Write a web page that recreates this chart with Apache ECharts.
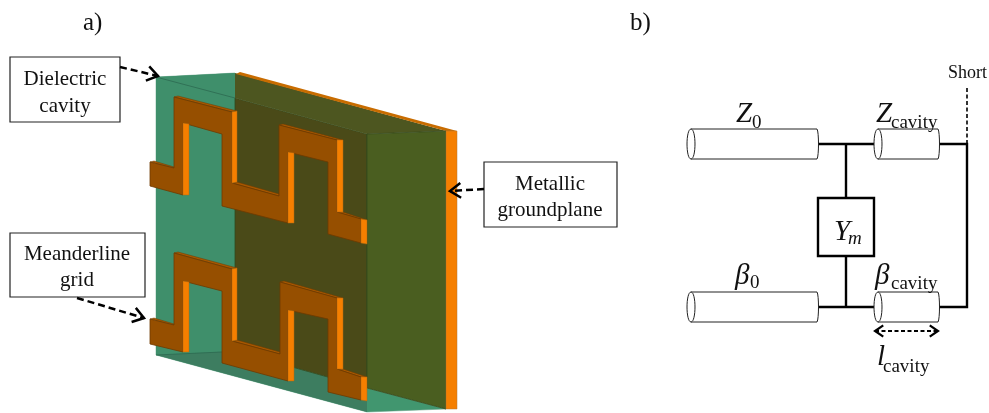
<!DOCTYPE html>
<html><head><meta charset="utf-8">
<style>html,body{margin:0;padding:0;background:#fff}#c{width:989px;height:413px}</style>
<script src="https://cdn.jsdelivr.net/npm/echarts@6/dist/echarts.min.js"></script>
</head><body><div id="c"></div>
<script>
// ---- readings in picture units ----
const cavityTeal=[[156,77],[235,73],[235,351],[367,388],[446,409],[367,412],[156,355]];
const cavityLeft=[[156,77],[235,73],[235,351],[156,355]];
const cavityFloor=[[156,355],[235,351],[367,388],[367,412]];
const cavityBack=[[235,98],[367,134],[367,388],[235,351]];
const cavityTop=[[235,73],[446,131],[367,134],[235,98]];
const cavitySide=[[367,134],[446,131],[446,409],[367,388]];
const groundTop=[[236,74],[240,72],[457,131],[446,131]];
const groundSide=[[446,131],[457,131],[457,409],[446,409]];
const frontEdge=[[[156,77],[235,98]],[[156,355],[222,352]]];

const meanderUpper=[[150,162],[174,168],[174,97],[232,112],[232,183],[279,196],[279,125],[337,140],[337,212],[361,219],[361,243],[328,234],[328,162],[288,152],[288,223],[222,206],[222,134],[183,123],[183,195],[150,186]];
const meanderLower=[[150,319],[174,325],[174,253],[232,269],[232,341],[280,354],[280,282],[337,298],[337,369],[361,377],[361,400],[328,392],[328,319],[288,310],[288,381],[222,363],[222,291],[183,281],[183,352],[150,344]];
const upperSides=[[[232,112],[237,111],[237,182],[232,183]],[[183,123],[189,124],[189,195],[183,195]],[[337,140],[343,140],[343,212],[337,212]],[[288,152],[294,153],[294,223],[288,223]],[[361,219],[367,220],[367,244],[361,243]]];
const lowerSides=[[[232,269],[237,268],[237,340],[232,341]],[[183,281],[189,282],[189,352],[183,352]],[[337,298],[343,298],[343,369],[337,369]],[[288,310],[294,311],[294,381],[288,381]],[[361,377],[367,377],[367,401],[361,400]]];
const upperLips=[[[150,162],[154,161],[174,167],[174,168]],[[174,97],[178,96],[237,111],[232,112]],[[232,183],[237,182],[279,194],[279,196]],[[279,125],[283,124],[343,140],[337,140]],[[337,212],[343,212],[367,220],[361,219]]];
const lowerLips=[[[150,319],[154,318],[174,324],[174,325]],[[174,253],[178,252],[237,268],[232,269]],[[232,341],[237,340],[280,352],[280,354]],[[280,282],[284,281],[343,298],[337,298]],[[337,369],[343,369],[367,377],[361,377]]];

const boxes=[[10,57,120,122],[10,233,145,297],[484,162,617,227]];
const thickBox=[[818,198,874,256]];
const wires=[[[818,144],[874,144]],[[846,144],[846,198]],[[846,256],[846,307]],[[818,307],[874,307]],[[939,144],[967,144],[967,307],[939,307]]];
const dashes=[[[967,88],[967,144]]];
const cylinders=[[691,818,129,159],[878,939,129,159],[691,818,292,322],[878,939,292,322]];
const pointers=[[[120,67],[158,76]],[[77,298],[144,318]],[[484,189],[450,191]]];
const spans=[[[875,331],[938,331]]];

const serifTexts=[
 ['a)',83,28,'head'],['b)',630,28,'head'],
 ['Dielectric',65,84,'labelC'],['cavity',65,111,'labelC'],
 ['Meanderline',77,259,'labelC'],['grid',77,285,'labelC'],
 ['Metallic',550,189,'labelC'],['groundplane',550,215,'labelC'],
 ['Short',948,77,'short'],
 ['Z',736,120,'sym'],['0',752,127,'sub'],
 ['Z',876,120,'sym'],['cavity',891,127,'sub'],
 ['β',735,282,'sym'],['0',750,287,'sub'],
 ['β',875,282,'sym'],['cavity',891,288,'sub'],
 ['Y',834,238,'sym'],['m',848,243,'subI'],
 ['l',877,363,'sym'],['cavity',883,371,'sub']
];

// ---- styles ----
const COL={teal:'#3f8f6b',tealBright:'#41966f',floor:'#3d7d60',back:'#4a4a18',top:'#4d5620',side:'#4a5e20',orange:'#f57f00',brown:'#964f00',lip:'#a85800',mEdge:'#6e3a00',groundTop:'#c86c00'};
const FONT={head:[25,'normal','left'],labelC:[21,'normal','center'],short:[18,'normal','left'],sym:[29,'italic','left'],sub:[19,'normal','left'],subI:[19,'italic','left']};
const BASELINE_SHIFT=0.2;

function polySeries(list,fill,stroke,lw){
 return {type:'custom',coordinateSystem:'cartesian2d',clip:false,silent:true,data:list.map((_,i)=>[i]),
  encode:{x:0},
  renderItem:(p,api)=>({type:'polygon',shape:{points:list[p.dataIndex].map(q=>api.coord(q))},
    style:{fill:fill,stroke:stroke||'none',lineWidth:lw||0}})};
}
function lineSeries(list,w,dash,color){
 return {type:'custom',coordinateSystem:'cartesian2d',clip:false,silent:true,data:list.map((_,i)=>[i]),
  encode:{x:0},
  renderItem:(p,api)=>({type:'polyline',shape:{points:list[p.dataIndex].map(q=>api.coord(q))},
    style:{fill:'none',stroke:color||'#000',lineWidth:w,lineDash:dash||null}})};
}
function head(tip,from,len){
 const dx=from[0]-tip[0],dy=from[1]-tip[1],a=Math.atan2(dy,dx),b=0.6;
 return [[tip[0]+len*Math.cos(a+b),tip[1]+len*Math.sin(a+b)],tip,[tip[0]+len*Math.cos(a-b),tip[1]+len*Math.sin(a-b)]];
}
const pointerHeads=pointers.map(l=>head(l[1],l[0],13));
const spanHeads=spans.flatMap(l=>[head(l[1],l[0],10),head(l[0],l[1],10)]);

function rectSeries(list,w,color){
 return {type:'custom',coordinateSystem:'cartesian2d',clip:false,silent:true,data:list.map((_,i)=>[i]),
  encode:{x:0},
  renderItem:(p,api)=>{const r=list[p.dataIndex],a=api.coord([r[0],r[1]]),b=api.coord([r[2],r[3]]);
   return {type:'rect',shape:{x:a[0],y:a[1],width:b[0]-a[0],height:b[1]-a[1]},style:{fill:'#fff',stroke:color,lineWidth:w}};}};
}
const cylSeries={type:'custom',coordinateSystem:'cartesian2d',clip:false,silent:true,data:cylinders.map((_,i)=>[i]),
 encode:{x:0},
 renderItem:(p,api)=>{
  const c=cylinders[p.dataIndex],a=api.coord([c[0],c[2]]),b=api.coord([c[1],c[3]]);
  const x0=a[0],x1=b[0],y0=a[1],y1=b[1],rx=4;
  const body=`M${x0} ${y0}L${x1-1} ${y0}C${x1+1} ${y0+3} ${x1+1} ${y1-3} ${x1-1} ${y1}L${x0} ${y1}Z`;
  const ell=`M${x0} ${y0}C${x0-rx*1.33} ${y0} ${x0-rx*1.33} ${y1} ${x0} ${y1}C${x0+rx*1.33} ${y1} ${x0+rx*1.33} ${y0} ${x0} ${y0}Z`;
  return {type:'group',children:[
   {type:'path',shape:{pathData:body},style:{fill:'#fff',stroke:'#222',lineWidth:1}},
   {type:'path',shape:{pathData:ell},style:{fill:'#fff',stroke:'#222',lineWidth:1}}]};
 }};
const textSeries={type:'custom',coordinateSystem:'cartesian2d',clip:false,silent:true,z:10,data:serifTexts.map((_,i)=>[i]),
 encode:{x:0},
 renderItem:(p,api)=>{
  const t=serifTexts[p.dataIndex],f=FONT[t[3]],c=api.coord([t[1],t[2]]);
  return {type:'text',x:c[0],y:c[1]-BASELINE_SHIFT*f[0],style:{text:t[0],fill:'#111',fontFamily:'"Liberation Serif","Times New Roman",serif',fontSize:f[0],fontStyle:f[1],align:f[2],verticalAlign:'middle'}};
 }};

const option={animation:false,backgroundColor:'#fff',
 grid:{left:0,right:0,top:0,bottom:0},
 xAxis:{type:'value',min:0,max:989,show:false},
 yAxis:{type:'value',min:0,max:413,inverse:true,show:false},
 series:[
  polySeries([cavityTeal],COL.tealBright,'#5c9c80',0.5),
  polySeries([cavityLeft],COL.teal),
  polySeries([cavityFloor],COL.floor),
  polySeries([cavityBack],COL.back,'#2f4a20',0.8),
  polySeries([cavityTop],COL.top),
  polySeries([groundTop],COL.groundTop),
  polySeries([cavitySide],COL.side,'#33491c',0.8),
  polySeries([groundSide],COL.orange,'#b07a3a',0.5),
  lineSeries(frontEdge,0.8,null,'#2c6a50'),
  polySeries(upperLips,COL.lip,COL.mEdge,0.5),
  polySeries(lowerLips,COL.lip,COL.mEdge,0.5),
  polySeries([meanderUpper],COL.brown,COL.mEdge,0.8),
  polySeries([meanderLower],COL.brown,COL.mEdge,0.8),
  polySeries(upperSides,COL.orange,'#b06a10',0.5),
  polySeries(lowerSides,COL.orange,'#b06a10',0.5),
  rectSeries(boxes,1.2,'#222'),
  rectSeries(thickBox,2.4,'#000'),
  lineSeries(wires,2.4),
  lineSeries(dashes,1.6,[4,2.5]),
  cylSeries,
  lineSeries(pointers,2.5,[7,4]),
  lineSeries(pointerHeads,2.5),
  lineSeries(spans,2,[4,2.5]),
  lineSeries(spanHeads,2.2),
  textSeries
 ]};
const chart=echarts.init(document.getElementById('c'),null,{renderer:'canvas'});
chart.setOption(option);
</script></body></html>
